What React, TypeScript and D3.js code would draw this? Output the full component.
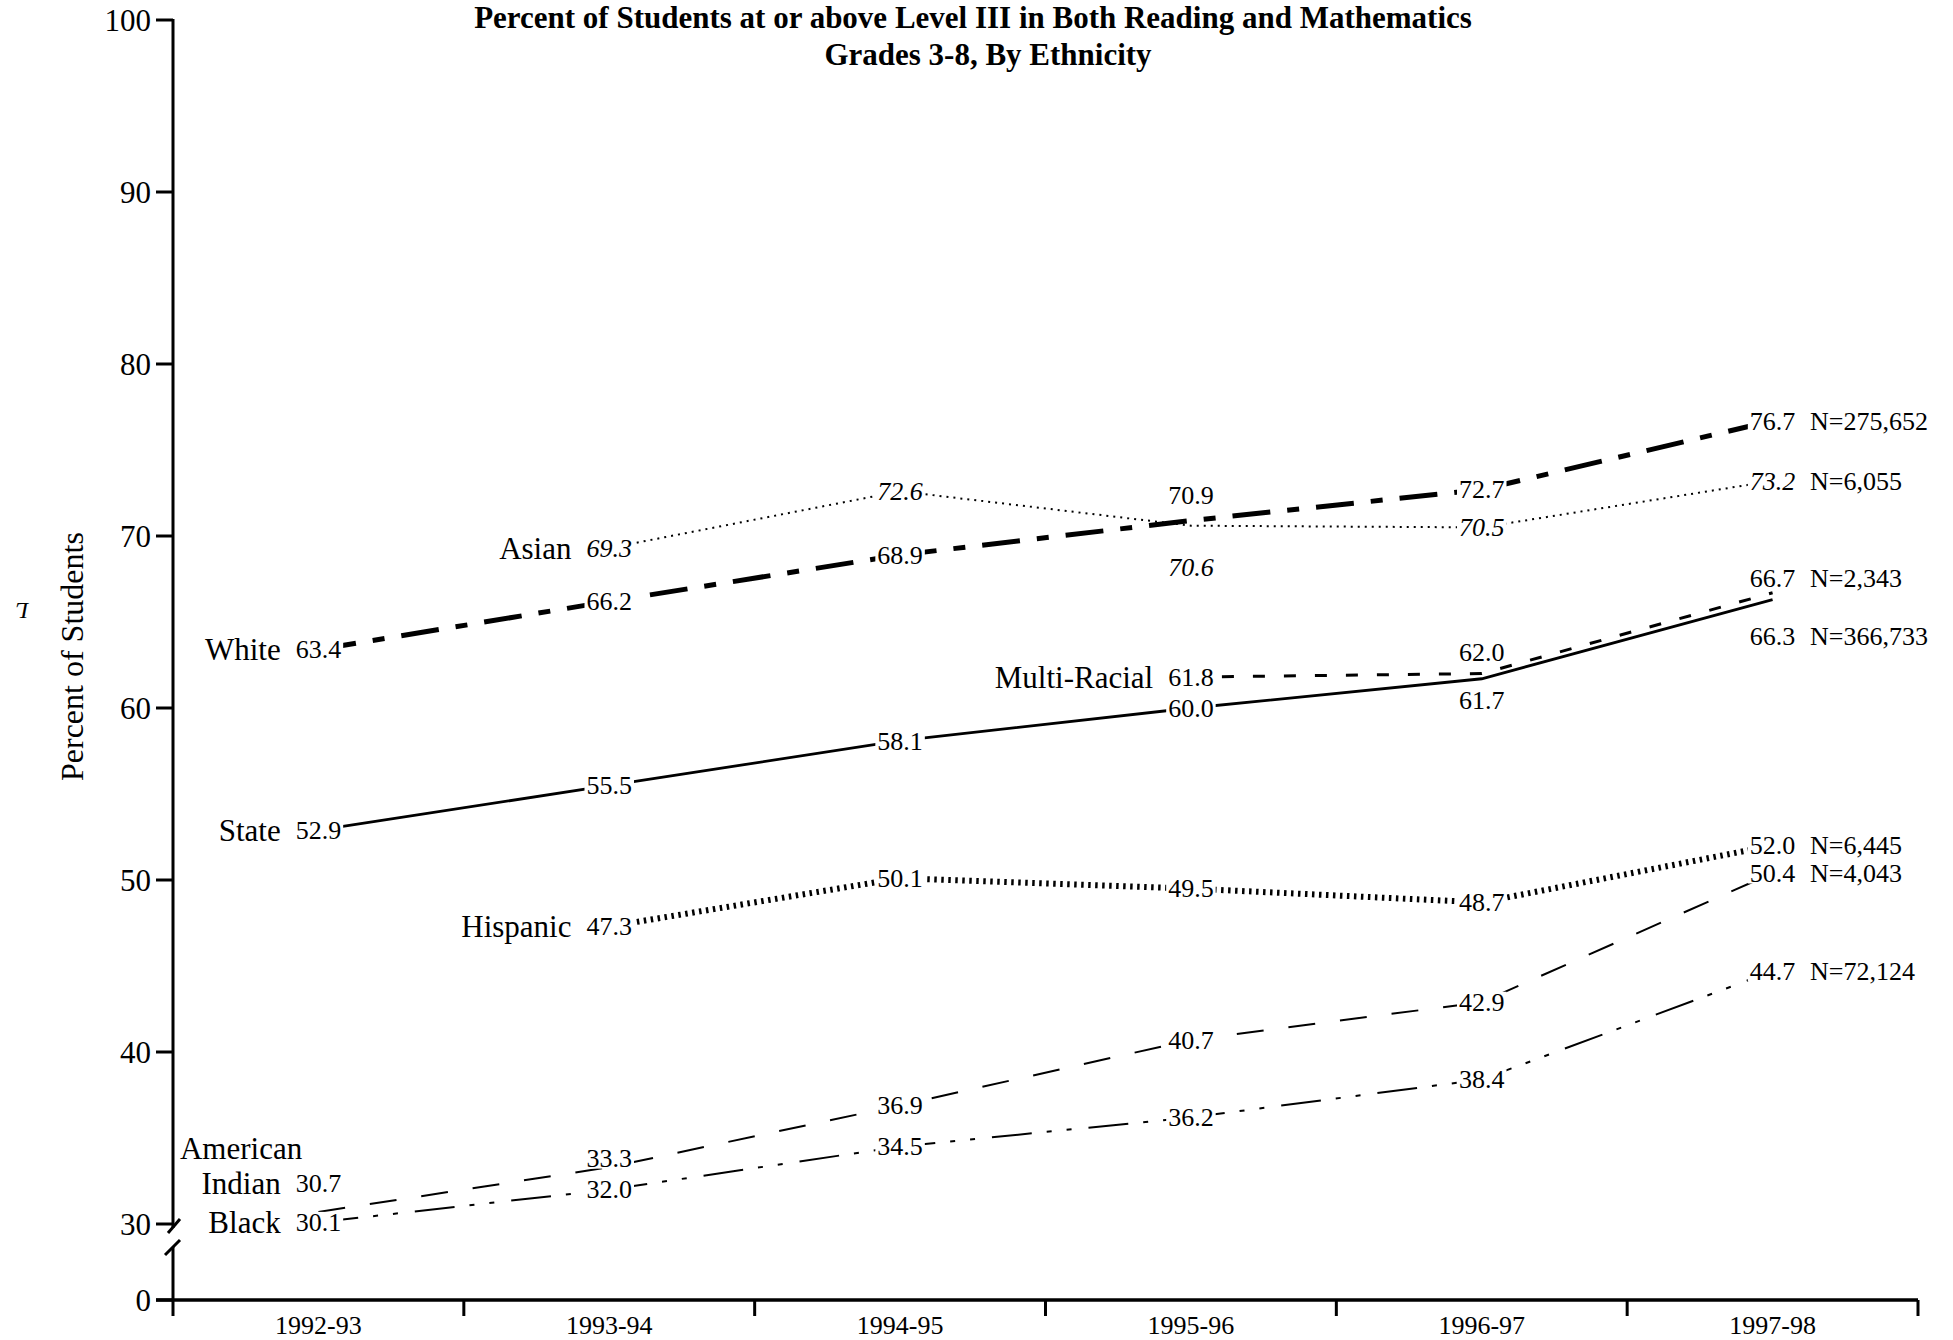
import React from "react";
import * as d3 from "d3";

const years = ["1992-93", "1993-94", "1994-95", "1995-96", "1996-97", "1997-98"];
const yTicks = [0, 30, 40, 50, 60, 70, 80, 90, 100];

const stateVals: (number | null)[] = [52.9, 55.5, 58.1, 60.0, 61.7, 66.3];
const whiteVals: (number | null)[] = [63.4, 66.2, 68.9, 70.9, 72.7, 76.7];
const asianVals: (number | null)[] = [null, 69.3, 72.6, 70.6, 70.5, 73.2];
const hispanicVals: (number | null)[] = [null, 47.3, 50.1, 49.5, 48.7, 52.0];
const multiVals: (number | null)[] = [null, null, null, 61.8, 62.0, 66.7];
const amIndVals: (number | null)[] = [30.7, 33.3, 36.9, 40.7, 42.9, 50.4];
const blackVals: (number | null)[] = [30.1, 32.0, 34.5, 36.2, 38.4, 44.7];

const seriesKeys = ["state", "white", "asian", "hispanic", "multi", "amInd", "black"];
const seriesNames: Record<string, string[]> = {
  state: ["State"],
  white: ["White"],
  asian: ["Asian"],
  hispanic: ["Hispanic"],
  multi: ["Multi-Racial"],
  amInd: ["American", "Indian"],
  black: ["Black"],
};
const seriesN: Record<string, string> = {
  state: "N=366,733",
  white: "N=275,652",
  asian: "N=6,055",
  hispanic: "N=6,445",
  multi: "N=2,343",
  amInd: "N=4,043",
  black: "N=72,124",
};
const seriesValues: Record<string, (number | null)[]> = {
  state: stateVals,
  white: whiteVals,
  asian: asianVals,
  hispanic: hispanicVals,
  multi: multiVals,
  amInd: amIndVals,
  black: blackVals,
};

// styles (not data)
const lineStyle: Record<string, { w: number; dash: string | undefined }> = {
  state: { w: 2.8, dash: undefined },
  white: { w: 5, dash: "38 17 12 17" },
  asian: { w: 2, dash: "2 5" },
  hispanic: { w: 6, dash: "2.5 4.5" },
  multi: { w: 3, dash: "12 19" },
  amInd: { w: 2, dash: "27 25" },
  black: { w: 2, dash: "40 15 5 15 5 17" },
};
const labelDy: Record<string, Record<number, number>> = {
  white: { 3: -25 },
  asian: { 3: 41 },
  multi: { 4: -21, 5: -15 },
  state: { 4: 21, 5: 37 },
  amInd: { 0: -29, 1: -9 },
};

const FONT = "'Liberation Serif', 'Times New Roman', serif";
const FS_VAL = 26;
const FS_NAME = 31;
const FS_TICK = 31;

const W = 1953;
const H = 1340;

const x = d3.scaleBand<string>().domain(years).range([173, 1918]).paddingInner(0).paddingOuter(0);
const y = d3.scaleLinear().domain([0, 30, 100]).range([1300, 1224, 20]);
const cx = (i: number) => (x(years[i]) as number) + x.bandwidth() / 2;

const charW: Record<string, number> = { ".": 0.25, ",": 0.25, "=": 0.564, N: 0.722 };
function valWidth(s: string, fs: number) {
  let w = 0;
  for (const c of s) w += charW[c] ?? 0.5;
  return w * fs;
}

export default function App() {
  const axisX = x.range()[0];
  const axisRight = x.range()[1];
  const y0 = y(0);
  const y30 = y(30);

  const lineGen = d3
    .line<[number, number | null]>()
    .defined((d) => d[1] != null)
    .x((d) => cx(d[0]))
    .y((d) => y(d[1] as number));

  const labels: { key: string; i: number; text: string; cxp: number; cy: number; italic: boolean }[] = [];
  seriesKeys.forEach((k) => {
    seriesValues[k].forEach((v, i) => {
      if (v == null) return;
      const dy = labelDy[k]?.[i] ?? 0;
      labels.push({ key: k, i, text: v.toFixed(1), cxp: cx(i), cy: y(v) + dy, italic: k === "asian" });
    });
  });

  return (
    <svg
      width={W}
      height={H}
      style={{ position: "absolute", left: 0, top: 0, background: "#fff" }}
      fontFamily={FONT}
    >
      <rect x={0} y={0} width={W} height={H} fill="#fff" />
      {/* Title */}
      <text x={973} y={28} textAnchor="middle" fontWeight="bold" fontSize={31}>
        Percent of Students at or above Level III in Both Reading and Mathematics
      </text>
      <text x={988} y={65} textAnchor="middle" fontWeight="bold" fontSize={31}>
        Grades 3-8, By Ethnicity
      </text>

      {/* Y axis label */}
      <text transform={`translate(83, 781) rotate(-90)`} fontSize={32} textAnchor="start">
        Percent of Students
      </text>
      <text transform="translate(22, 603) rotate(180)" fontSize={24} fontStyle="italic" textAnchor="middle">
        L
      </text>

      {/* Axes */}
      <g stroke="#000" strokeWidth={3} fill="none">
        <line x1={axisX} x2={axisX} y1={y(100) - 1} y2={y30 + 4} />
        <line x1={axisX} x2={axisX} y1={y30 + 23} y2={y0} />
        <line x1={axisX - 5} x2={axisX + 7} y1={y30 + 9} y2={y30 - 5} />
        <line x1={axisX - 8} x2={axisX + 7} y1={y30 + 31} y2={y30 + 16} />
        <line x1={axisX - 17} x2={axisRight} y1={y0} y2={y0} strokeWidth={3.5} />
        {yTicks.map((t) => (
          <line key={t} x1={axisX - 17} x2={axisX} y1={y(t)} y2={y(t)} />
        ))}
        {years.map((yr) => (
          <line key={yr} x1={x(yr) as number} x2={x(yr) as number} y1={y0} y2={y0 + 16} />
        ))}
        <line x1={axisRight} x2={axisRight} y1={y0} y2={y0 + 16} />
      </g>
      {yTicks.map((t) => (
        <text key={t} x={axisX - 22} y={y(t) + FS_TICK * 0.34} textAnchor="end" fontSize={FS_TICK}>
          {t}
        </text>
      ))}
      {years.map((yr, i) => (
        <text key={yr} x={cx(i)} y={1334} textAnchor="middle" fontSize={26}>
          {yr}
        </text>
      ))}

      {/* Lines */}
      {seriesKeys.map((k) => (
        <path
          key={k}
          d={lineGen(seriesValues[k].map((v, i) => [i, v] as [number, number | null])) || ""}
          fill="none"
          stroke="#000"
          strokeWidth={lineStyle[k].w}
          strokeDasharray={lineStyle[k].dash}
        />
      ))}

      {/* Label masks */}
      {labels.map((l) => {
        const w = valWidth(l.text, FS_VAL);
        return (
          <rect
            key={`m-${l.key}-${l.i}`}
            x={l.cxp - w / 2 - 2}
            y={l.cy - FS_VAL * 0.4}
            width={w + 4}
            height={FS_VAL * 0.8}
            fill="#fff"
          />
        );
      })}
      {labels.map((l) => (
        <text
          key={`t-${l.key}-${l.i}`}
          x={l.cxp}
          y={l.cy + FS_VAL * 0.34}
          textAnchor="middle"
          fontSize={FS_VAL}
          fontStyle={l.italic ? "italic" : "normal"}
        >
          {l.text}
        </text>
      ))}

      {/* N labels */}
      {seriesKeys.map((k) => {
        const vals = seriesValues[k];
        const last = vals.length - 1;
        const dy = labelDy[k]?.[last] ?? 0;
        return (
          <text key={`n-${k}`} x={1810} y={y(vals[last] as number) + dy + FS_VAL * 0.34} fontSize={FS_VAL}>
            {seriesN[k]}
          </text>
        );
      })}

      {/* Series names */}
      {seriesKeys.map((k) => {
        const vals = seriesValues[k];
        const fi = vals.findIndex((v) => v != null);
        const txt = (vals[fi] as number).toFixed(1);
        const w = valWidth(txt, FS_VAL);
        const right = cx(fi) - w / 2 - 15;
        const cyv = y(vals[fi] as number) + (labelDy[k]?.[fi] ?? 0);
        const names = seriesNames[k];
        if (names.length === 1) {
          return (
            <text key={`nm-${k}`} x={right} y={cyv + FS_NAME * 0.34} textAnchor="end" fontSize={FS_NAME}>
              {names[0]}
            </text>
          );
        }
        const lastW = 2.555 * FS_NAME;
        const center = right - lastW / 2;
        return (
          <g key={`nm-${k}`}>
            <text x={center} y={cyv - 35 + FS_NAME * 0.34} textAnchor="middle" fontSize={FS_NAME}>
              {names[0]}
            </text>
            <text x={right} y={cyv + FS_NAME * 0.34} textAnchor="end" fontSize={FS_NAME}>
              {names[1]}
            </text>
          </g>
        );
      })}
    </svg>
  );
}
